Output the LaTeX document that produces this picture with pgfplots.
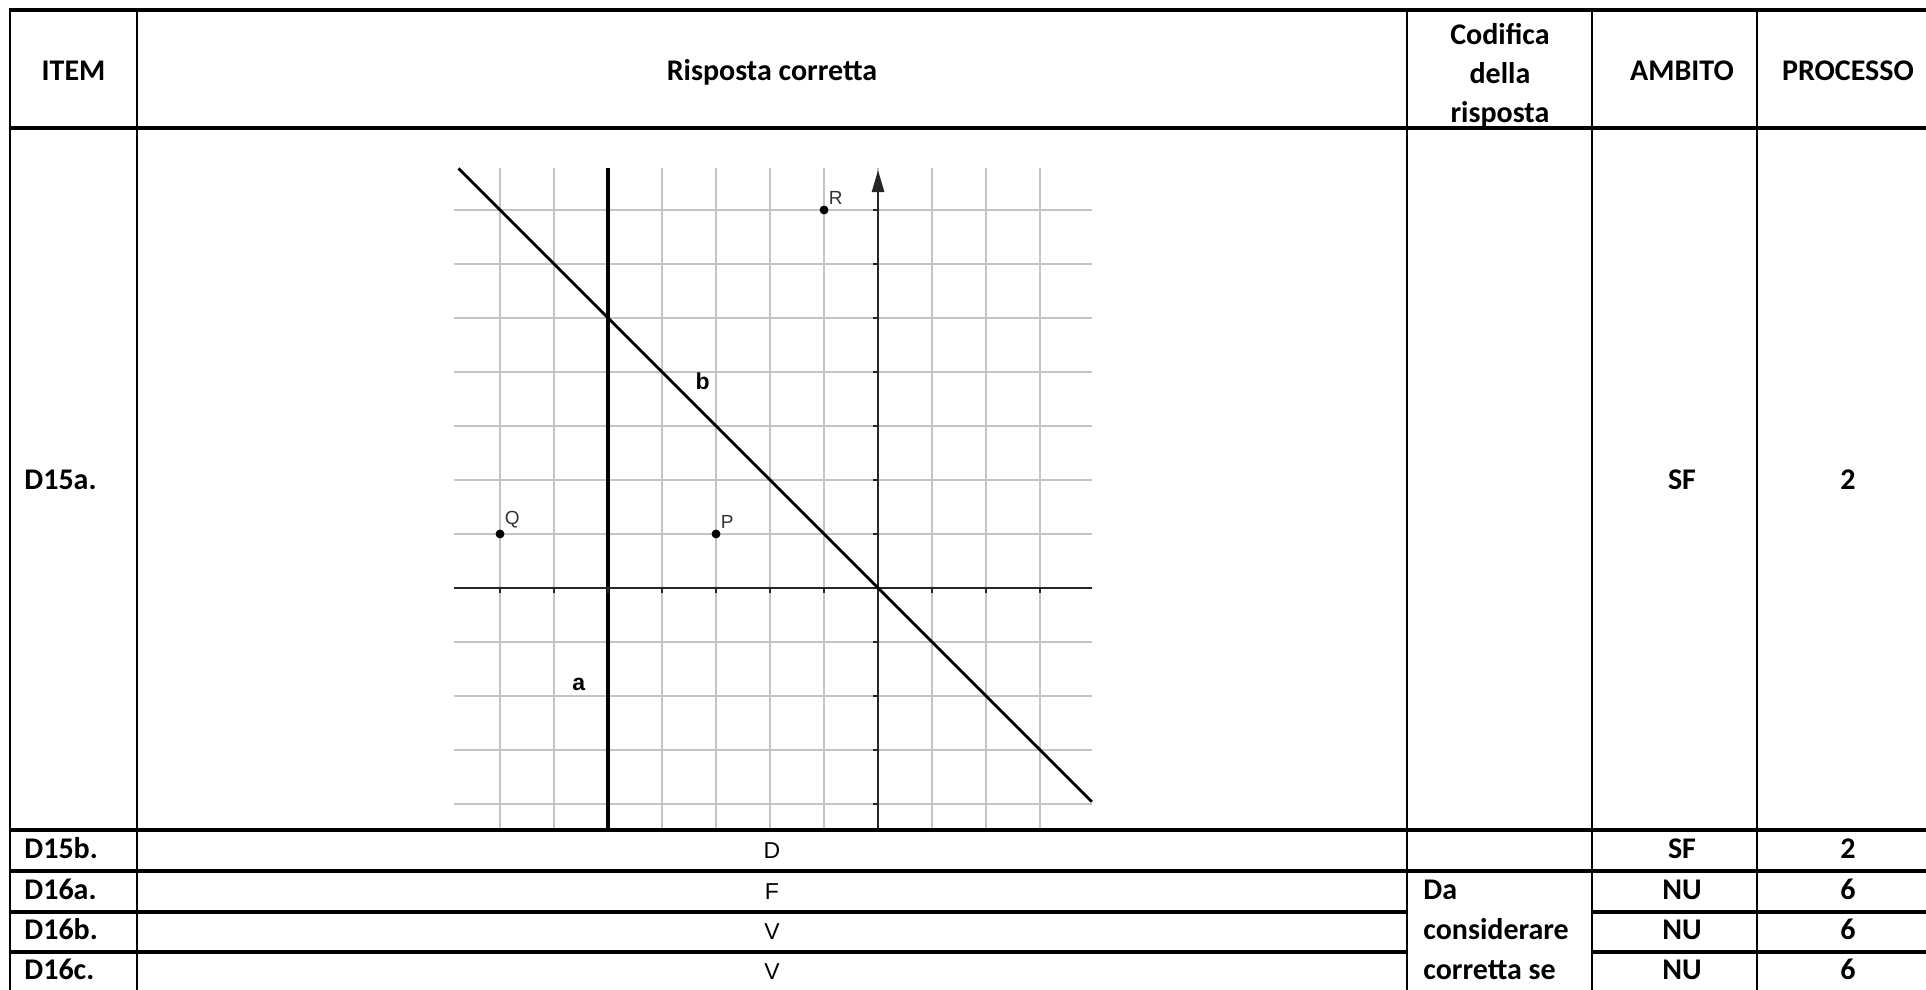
\documentclass[border=0pt]{standalone}
\usepackage{pgfplots}
\pgfplotsset{compat=1.18}
\usetikzlibrary{arrows.meta}
\usepackage{fontspec}
\setmainfont{Carlito}
\newfontfamily\arial{Liberation Sans}
\definecolor{gridgray}{HTML}{C4C4C4}
\definecolor{axisdark}{HTML}{262626}
\begin{document}
\begin{tikzpicture}
\useasboundingbox (0bp,0bp) rectangle (963bp,495bp);
% ---------- graph ----------
\begin{axis}[
  at={(226.8bp,80.05bp)}, anchor=south west,
  x=27bp, y=27bp,
  xmin=-7.86, xmax=3.96, ymin=-4.48, ymax=7.77,
  axis line style={draw=none},
  xtick={-7,...,3}, ytick={-4,...,7},
  xticklabels={}, yticklabels={},
  major tick length=0pt,
  grid=major,
  grid style={gridgray, line width=0.6bp},
  clip=false,
]
% line a
\addplot[black, line width=1.6bp] coordinates {(-5,-4.48) (-5,7.77)};
% x axis
\addplot[axisdark, line width=1.3bp] coordinates {(-7.86,0) (3.96,0)};
% y axis with arrow
\addplot[axisdark, line width=1.3bp, -{Triangle[length=11bp,width=6bp]}] coordinates {(0,-4.48) (0,7.74)};
% axis ticks
\addplot[only marks, mark=|, mark size=1.2bp, mark options={axisdark, line width=0.8bp, yshift=-1.2bp}] coordinates {(-7,0) (-6,0) (-5,0) (-4,0) (-3,0) (-2,0) (-1,0) (1,0) (2,0) (3,0)};
\addplot[only marks, mark=-, mark size=1.2bp, mark options={axisdark, line width=0.8bp, xshift=-1.2bp}] coordinates {(0,-4) (0,-3) (0,-2) (0,-1) (0,1) (0,2) (0,3) (0,4) (0,5) (0,6) (0,7)};
% line b
\addplot[black, line width=1.4bp] coordinates {(-7.77,7.77) (3.96,-3.96)};
% points
\addplot[only marks, mark=*, mark size=2bp, black] coordinates {(-7,1) (-3,1) (-1,7)};
\node[anchor=south west, font=\arial\fontsize{9.5bp}{11bp}\selectfont, text=black!80, inner sep=0pt] at (axis cs:-6.92,1.1) {Q};
\node[anchor=south west, font=\arial\fontsize{9.5bp}{11bp}\selectfont, text=black!80, inner sep=0pt] at (axis cs:-2.92,1.1) {P};
\node[anchor=south west, font=\arial\fontsize{9.5bp}{11bp}\selectfont, text=black!80, inner sep=0pt] at (axis cs:-0.92,7.1) {R};
\node[font=\arial\bfseries\fontsize{11.5bp}{13bp}\selectfont] at (axis cs:-3.25,3.83) {b};
\node[font=\arial\bfseries\fontsize{11.5bp}{13bp}\selectfont] at (axis cs:-5.54,-1.79) {a};
\end{axis}
\begin{scope}[x=0.5bp,y=0.5bp]
% ---------- table lines ----------
\begin{scope}[line width=1.6bp]
\draw (9,980) -- (1930,980);
\draw (9,862) -- (1930,862);
\draw (9,160) -- (1930,160);
\draw (9,119) -- (1930,119);
\draw (9,78) -- (1407,78);
\draw (1592,78) -- (1930,78);
\draw (9,38) -- (1407,38);
\draw (1592,38) -- (1930,38);
\end{scope}
\begin{scope}[line width=1.1bp]
\foreach \xx in {10,137,1407,1592,1757} \draw (\xx,981) -- (\xx,-5);
\end{scope}
% ---------- table text ----------
\begin{scope}[every node/.style={font=\bfseries\fontsize{15bp}{19.4bp}\selectfont, inner sep=0pt}]
\node[anchor=mid] at (73.5,914) {ITEM};
\node[anchor=mid] at (772,914) {Risposta corretta};
\node[align=center] at (1500,915) {Codifica\\della\\risposta};
\node[anchor=mid] at (1682,914) {AMBITO};
\node[anchor=mid] at (1848,914) {PROCESSO};
\node[anchor=mid west] at (24,505) {D15a.};
\node[anchor=mid] at (1682,505) {SF};
\node[anchor=mid] at (1848,505) {2};
\node[anchor=mid west] at (24,136) {D15b.};
\node[anchor=mid west] at (24,95.5) {D16a.};
\node[anchor=mid west] at (24,55) {D16b.};
\node[anchor=mid west] at (24,15) {D16c.};
\node[anchor=mid] at (1682,136) {SF};
\node[anchor=mid] at (1682,95.5) {NU};
\node[anchor=mid] at (1682,55) {NU};
\node[anchor=mid] at (1682,15) {NU};
\node[anchor=mid] at (1848,136) {2};
\node[anchor=mid] at (1848,95.5) {6};
\node[anchor=mid] at (1848,55) {6};
\node[anchor=mid] at (1848,15) {6};
\node[anchor=mid west] at (1423,95.5) {Da};
\node[anchor=mid west] at (1423,55) {considerare};
\node[anchor=mid west] at (1423,15) {corretta se};
\end{scope}
\begin{scope}[every node/.style={font=\arial\fontsize{11.5bp}{13bp}\selectfont, inner sep=0pt, anchor=mid}]
\node at (772,136) {D};
\node at (772,95.5) {F};
\node at (772,55) {V};
\node at (772,15) {V};
\end{scope}
\end{scope}
\end{tikzpicture}
\end{document}
